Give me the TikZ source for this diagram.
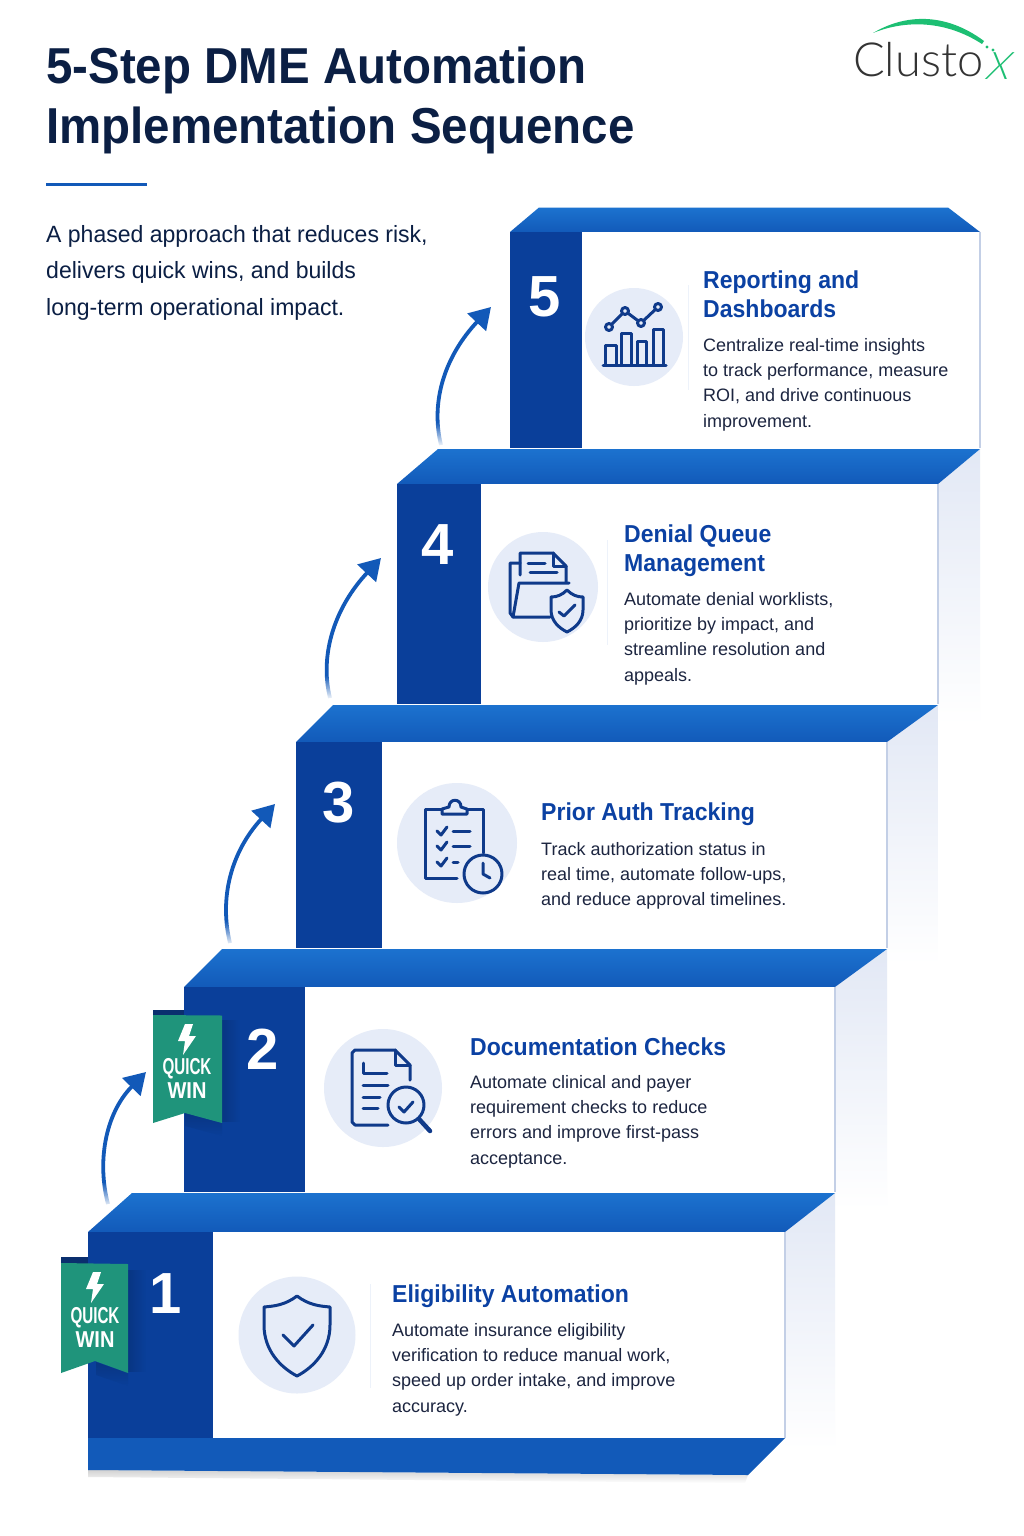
\documentclass[tikz,border=0pt]{standalone}
\usepackage{fontspec}
\setmainfont{Liberation Sans}
\newfontfamily\logofont{Lato Light}
\newfontfamily\titlefont[FakeStretch=0.94]{Liberation Sans}
\newfontfamily\subfont[FakeStretch=0.98]{Liberation Sans}
\usetikzlibrary{arrows.meta,fadings}
\definecolor{col}{HTML}{0A3F9A}
\definecolor{ledgeA}{HTML}{1C72CF}
\definecolor{ledgeB}{HTML}{125AB9}
\definecolor{navy}{HTML}{0F3A8A}
\definecolor{titlec}{HTML}{0B1F44}
\definecolor{bodyc}{HTML}{1C2540}
\definecolor{headc}{HTML}{0B41A3}
\definecolor{disc}{HTML}{E6ECF8}
\definecolor{sidec}{HTML}{E2E8F5}
\definecolor{edgec}{HTML}{C3CFE6}
\definecolor{ribbon}{HTML}{1F947B}
\definecolor{tabc}{HTML}{0A2F6E}
\definecolor{arrowc}{HTML}{1259B8}
\definecolor{logog}{HTML}{1DBF73}
\tikzset{
  x=1pt,y=-1pt,
  ledge/.style={top color=ledgeA,bottom color=ledgeB,draw=none},
  sideface/.style={top color=sidec,bottom color=white,draw=none},
  column/.style={fill=col,draw=none},
  card/.style={fill=white,draw=none},
  rim/.style={draw=edgec,line width=1.2pt},
  disc/.style={circle,fill=disc,draw=none,inner sep=0pt,minimum size=#1},
  ico/.style={draw=navy,line width=3pt,line cap=round,line join=round},
  num/.style={text=white,font=\bfseries\fontsize{58}{58}\selectfont,inner sep=0pt},
  mainhead/.style={anchor=base west,inner sep=0pt,text=titlec,font=\titlefont\fontsize{50.5}{50}\selectfont\bfseries},
  sub/.style={anchor=base west,inner sep=0pt,text=titlec,font=\subfont\fontsize{23.5}{24}\selectfont},
  head/.style={text=headc,anchor=north west,inner sep=0pt,align=left,font=\titlefont\fontsize{24.5}{29}\selectfont\bfseries},
  body/.style={text=bodyc,anchor=north west,inner sep=0pt,align=left,font=\fontsize{18}{25.3}\selectfont},
  stepline/.style={draw=arrowc,line width=3.8pt,-{Triangle[length=21pt,width=25pt]}},
  quick/.style={text=white,inner sep=0pt,font=\fontsize{23}{23}\selectfont\bfseries},
  divider/.style={draw=disc!70,line width=1pt},
}
\begin{document}
\begin{tikzpicture}
\useasboundingbox (0,0) rectangle (1024,1536);
\fill[white] (0,0) rectangle (1024,1536);

% title
\node[mainhead] (t1) at (46,84) {5-Step DME Automation};
\node[mainhead] (t2) at (46,143) {Implementation Sequence};
\fill[arrowc] (46,182.5) rectangle (147,185.5);
\node[sub] (s1) at (46,242) {A phased approach that reduces risk,};
\node[sub] (s2) at (46,278) {delivers quick wins, and builds};
\node[sub] (s3) at (46,315) {long-term operational impact.};

% logo
\fill[logog] (873,33) .. controls (905,14) and (945,12) .. (984,41) -- (982,44) .. controls (945,20) and (905,20) .. (873,33) -- cycle;
\fill[logog] (987,47) circle (1.7);
\fill[logog] (993,50) circle (1.7);
\node[anchor=base west,inner sep=0pt,text=black!80,font=\logofont\fontsize{47}{47}\selectfont] (logo) at (853,77) {Clusto};
\node[inner sep=0pt,text=logog,transform shape,xslant=.3,font=\logofont\fontsize{38}{38}\selectfont] (logox) at (1000,66) {X};

% side faces
\path[sideface] (938,484) -- (980,449) -- (980,725) -- (938,725) -- cycle;
\path[sideface] (887,742) -- (938,705) -- (938,965) -- (887,965) -- cycle;
\path[sideface] (835,987) -- (887,949) -- (887,1210) -- (835,1210) -- cycle;
\path[sideface] (785,1232) -- (835,1193) -- (835,1450) -- (785,1450) -- cycle;

% step 5
\path[ledge] (510,232) -- (539,207.5) -- (948,207.5) -- (980,232) -- cycle;
\path[card] (582,232) rectangle (980,448);
\draw[rim] (980,232) -- (980,448);
\path[column] (510,232) rectangle (582,448);
% step 4
\path[ledge] (397,484) -- (438,449) -- (980,449) -- (938,484) -- cycle;
\path[card] (481,484) rectangle (938,704);
\draw[rim] (938,484) -- (938,704);
\path[column] (397,484) rectangle (481,704);
% step 3
\path[ledge] (296,742) -- (333,705) -- (938,705) -- (887,742) -- cycle;
\path[card] (382,742) rectangle (887,948);
\draw[rim] (887,742) -- (887,948);
\path[column] (296,742) rectangle (382,948);
% step 2
\path[ledge] (184,987) -- (222,949) -- (887,949) -- (835,987) -- cycle;
\path[card] (305,987) rectangle (835,1192);
\draw[rim] (835,987) -- (835,1192);
\path[column] (184,987) rectangle (305,1192);
% step 1
\path[ledge] (88,1232) -- (132,1193) -- (835,1193) -- (785,1232) -- cycle;
\path[card] (213,1232) rectangle (785,1438);
\draw[rim] (785,1232) -- (785,1438);
\path[column] (88,1232) rectangle (213,1438);
% bottom band
\path[top color=gray!35,bottom color=white] (88,1470) -- (748,1475) -- (745,1483) -- (88,1477) -- cycle;
\fill[ledgeB] (88,1438) -- (785,1438) -- (748,1475) -- (88,1470) -- cycle;

% numbers
\node[num] (n5) at (545,297) {5};
\node[num] (n4) at (438,545) {4};
\node[num] (n3) at (339,803) {3};
\node[num] (n2) at (263,1049) {2};
\node[num] (n1) at (166,1294) {1};

% discs
\node[disc=98pt] (d5) at (634,337) {};
\node[disc=110pt] (d4) at (543,587) {};
\node[disc=120pt] (d3) at (457,843) {};
\node[disc=118pt] (d2) at (383,1088) {};
\node[disc=117pt] (d1) at (297,1335) {};

% dividers
\draw[divider] (688,285) -- (688,390);
\draw[divider] (607,540) -- (607,645);
\draw[divider] (370,1284) -- (370,1388);

% icon 5
\draw[ico] (603,365) -- (666,365);
\draw[ico] (605,365) -- (605,345) -- (616,345) -- (616,365);
\draw[ico] (621,365) -- (621,333) -- (631,333) -- (631,365);
\draw[ico] (637,365) -- (637,341) -- (646,341) -- (646,365);
\draw[ico] (653,365) -- (653,329) -- (663,329) -- (663,365);
\draw[ico] (609,327) -- (625,311) -- (641,323) -- (658,307);
\draw[ico,fill=disc] (609,327) circle (3.5) (625,311) circle (3.5) (641,323) circle (3.5) (658,307) circle (3.5);

% icon 4
\draw[ico] (520,575) -- (520,553) -- (553,553) -- (566,566) -- (566,582);
\draw[ico] (553,553) -- (553,566) -- (566,566);
\draw[ico] (528,563) -- (545,563);
\draw[ico] (530,572) -- (557,572);
\draw[ico] (520,563) -- (510,563) -- (510,613) -- (513,617);
\draw[ico] (550,617) -- (513,617) -- (519,583) -- (569,583);
\draw[ico,fill=disc] (567,590) .. controls (572,595) and (577,597) .. (583,597) -- (583,610) .. controls (583,621) and (575,628) .. (567,632) .. controls (559,628) and (551,621) .. (551,610) -- (551,597) .. controls (557,597) and (562,595) .. (567,590) -- cycle;
\draw[ico] (559,612) -- (564,616) -- (575,605);

% icon 3
\draw[ico] (457,878) -- (425,878) -- (425,809) -- (442,809);
\draw[ico] (467,809) -- (483,809) -- (483,853);
\draw[ico,fill=disc] (442,814) -- (442,809) -- (449,807) .. controls (449,798) and (461,798) .. (461,807) -- (467,809) -- (467,814) -- cycle;
\draw[ico] (437,831) -- (441,835) -- (447,827);
\draw[ico] (437,846) -- (441,850) -- (447,842);
\draw[ico] (437,862) -- (441,866) -- (447,858);
\draw[ico] (453,831) -- (470,831);
\draw[ico] (453,846) -- (470,846);
\draw[ico] (453,862) -- (458,862);
\draw[ico,fill=disc] (483,874) circle (19);
\draw[ico] (483,863) -- (483,874) -- (490,878);

% icon 2
\draw[ico] (388,1125) -- (355,1125) -- (352,1122) -- (352,1053) -- (355,1050) -- (395,1050) -- (410,1065) -- (410,1080);
\draw[ico] (395,1050) -- (395,1065) -- (410,1065);
\draw[ico] (363,1063) -- (363,1073) -- (387,1073);
\draw[ico] (363,1085) -- (388,1085);
\draw[ico] (363,1097) -- (380,1097);
\draw[ico] (363,1108) -- (378,1108);
\draw[ico,fill=disc] (406,1105) circle (18);
\draw[navy,line width=4.5pt,line cap=round] (419,1119) -- (430,1131);
\draw[ico] (399,1107) -- (404,1112) -- (413,1102);

% icon 1
\draw[ico] (297,1296) .. controls (285,1305) and (275,1306) .. (264,1307) -- (264,1325) .. controls (264,1350) and (280,1367) .. (297,1376) .. controls (314,1367) and (330,1350) .. (330,1325) -- (330,1307) .. controls (319,1306) and (309,1305) .. (297,1296) -- cycle;
\draw[ico] (283,1335) -- (294,1346) -- (313,1325);

% texts
\node[head] (h5) at (703,271) {Reporting and\\Dashboards};
\node[body] (b5) at (703,338) {Centralize real-time insights\\to track performance, measure\\ROI, and drive continuous\\improvement.};
\node[head] (h4) at (624,525) {Denial Queue\\Management};
\node[body] (b4) at (624,592) {Automate denial worklists,\\prioritize by impact, and\\streamline resolution and\\appeals.};
\node[head] (h3) at (541,803) {Prior Auth Tracking};
\node[body] (b3) at (541,842) {Track authorization status in\\real time, automate follow-ups,\\and reduce approval timelines.};
\node[head] (h2) at (470,1038) {Documentation Checks};
\node[body] (b2) at (470,1075) {Automate clinical and payer\\requirement checks to reduce\\errors and improve first-pass\\acceptance.};
\node[head] (h1) at (392,1285) {Eligibility Automation};
\node[body] (b1) at (392,1323) {Automate insurance eligibility\\verification to reduce manual work,\\speed up order intake, and improve\\accuracy.};

% ribbon 2
\fill[tabc] (153,1010) rectangle (184,1016);
\fill[black,opacity=.15,path fading=east] (222,1020) rectangle (240,1122);
\fill[black,opacity=.15,path fading=south] (185,1113) -- (222,1123) -- (222,1136) -- (185,1126) -- cycle;
\fill[ribbon] (153,1015) -- (222,1015.5) -- (222,1123) -- (185,1113) -- (153,1123) -- cycle;
\fill[white] (185,1024) -- (193,1024) -- (189,1036) -- (196,1036) -- (183,1055) -- (185,1041) -- (178,1041) -- cycle;
\node[quick] (q2a) at (187,1069) {\scalebox{.66}[1]{QUICK}};
\node[quick] (q2b) at (187,1091) {\scalebox{.87}[1]{WIN}};

% ribbon 1
\fill[tabc] (61,1257) rectangle (88,1264);
\fill[black,opacity=.15,path fading=east] (128,1270) rectangle (146,1372);
\fill[black,opacity=.15,path fading=south] (96,1362) -- (128,1373) -- (128,1386) -- (96,1375) -- cycle;
\fill[ribbon] (61,1263) -- (128,1264) -- (128,1373) -- (95,1361) -- (61,1373) -- cycle;
\fill[white,shift={(-92,248)}] (185,1024) -- (193,1024) -- (189,1036) -- (196,1036) -- (183,1055) -- (185,1041) -- (178,1041) -- cycle;
\node[quick] (q1a) at (95,1318) {\scalebox{.66}[1]{QUICK}};
\node[quick] (q1b) at (95,1340) {\scalebox{.87}[1]{WIN}};

% connectors
\coordinate (a5) at (441,445); \coordinate (e5) at (491,307);
\coordinate (a4) at (330,698); \coordinate (e4) at (381,558);
\coordinate (a3) at (230,943); \coordinate (e3) at (275,804);
\coordinate (a2) at (108,1204); \coordinate (e2) at (146,1072);
\draw[stepline] (a5) .. controls (430,400) and (446,355) .. (e5);
\draw[stepline] (a4) .. controls (319,653) and (336,606) .. (e4);
\draw[stepline] (a3) .. controls (219,898) and (231,852) .. (e3);
\draw[stepline] (a2) .. controls (97,1162) and (105,1114) .. (e2);
\fill[white,path fading=north] (425,447) rectangle (455,422);
\fill[white,path fading=north] (314,700) rectangle (344,675);
\fill[white,path fading=north] (214,946) rectangle (244,921);
\fill[white,path fading=north] (92,1182) -- (122,1182) -- (122,1201) -- (114,1208) -- (92,1208) -- cycle;
\end{tikzpicture}
\end{document}
